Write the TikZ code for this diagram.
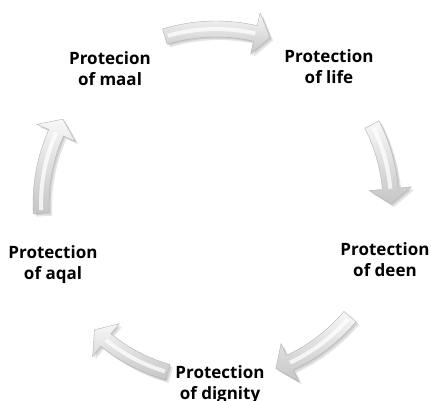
\documentclass[tikz,border=0pt]{standalone}
\usepackage{fontspec}
\setmainfont{Open Sans}
\usetikzlibrary{calc}

% one curved arrow of the cycle, from angle \s to tip angle \e (head base at \b)
\newcommand{\cycshape}{($(c)+(\s:167pt)$) arc[start angle=\s, end angle=\b, radius=167pt]
  -- ($(c)+(\b:154pt)$) -- ($(c)+(\e:175pt)$) -- ($(c)+(\b:196pt)$) -- ($(c)+(\b:183pt)$)
  arc[start angle=\b, end angle=\s, radius=183pt] -- cycle}

\begin{document}
\begin{tikzpicture}[
    x=1pt, y=1pt,
    font=\fontsize{17}{21}\selectfont\bfseries,
    lbl/.style={align=center, inner sep=0pt},
    cycarrow/.style={top color=gray!6, bottom color=gray!45, draw=gray!60, line width=0.4pt},
    cycshadow/.style={fill=black, opacity=0.10},
    ridge/.style={white, line width=4pt, opacity=0.75}
]
\useasboundingbox (0,0) rectangle (431,400);
\coordinate (c) at (216,196);

\node[lbl] (maal) at (110,331) {Protecion\\of maal};
\node[lbl] (life) at (329,333) {Protection\\of life};
\node[lbl] (deen) at (385,140.5) {Protection\\of deen};
\node[lbl] (dignity) at (220,15.5) {Protection\\of dignity};
\node[lbl] (aqal) at (53,135.5) {Protection\\of aqal};

\foreach \s/\e in {107/72, 27/0, -40/-70, -106/-134, 183/151}{
  \pgfmathsetmacro\b{\e+5}
  \path[cycshadow, transform canvas={xshift=3pt, yshift=-3pt}] \cycshape;
  \path[cycshadow, transform canvas={xshift=1.5pt, yshift=-1.5pt}] \cycshape;
  \path[cycarrow] \cycshape;
  \draw[ridge] ($(c)+(\s-1:175pt)$) arc[start angle=\s-1, end angle=\b, radius=175pt];
}
\end{tikzpicture}
\end{document}
